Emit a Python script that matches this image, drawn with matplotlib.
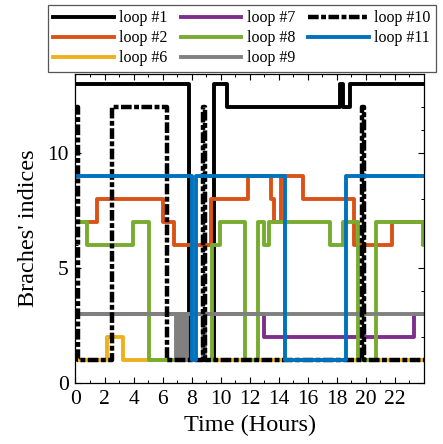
import matplotlib
matplotlib.use('Agg')
import matplotlib.pyplot as plt
from matplotlib.ticker import MultipleLocator

plt.rcParams['font.family'] = ['Liberation Serif', 'DejaVu Serif']

# switching times (hours) and branch index for each loop
t1 = [0, 7.85, 9.55, 10.4, 18.2, 18.45, 18.9, 24]
v1 = [13, 1, 13, 12, 13, 12, 13, 13]

t2 = [0, 1.5, 6.0, 6.8, 9.35, 11.85, 13.45, 13.65, 14.15, 15.65, 19.2, 21.8, 24]
v2 = [7, 8, 7, 6, 8, 9, 8, 7, 9, 8, 6, 7, 7]

t6 = [0, 2.15, 3.3, 24]
v6 = [1, 2, 1, 1]

t7 = [0, 13.0, 23.3, 24]
v7 = [3, 2, 3, 3]

t8 = [0, 0.8, 3.95, 5.05, 9.4, 9.95, 11.65, 12.6, 13.0, 13.3, 17.5, 18.4, 19.45, 20.7, 23.9, 24]
v8 = [7, 6, 7, 1, 6, 7, 1, 7, 6, 7, 6, 7, 1, 7, 6, 6]

t9 = [0, 6.95, 7.05, 7.15, 7.25, 7.35, 7.45, 7.55, 7.65, 8.8, 8.95, 24]
v9 = [3, 1, 3, 1, 3, 1, 3, 1, 3, 1, 3, 3]

t10 = [0, 0.15, 2.5, 6.3, 8.8, 8.95, 19.7, 19.85, 24]
v10 = [12, 1, 12, 1, 12, 1, 12, 1, 1]

t11 = [0, 8.05, 8.3, 14.4, 18.65, 24]
v11 = [9, 1, 9, 1, 9, 9]

labels = ['loop #1', 'loop #2', 'loop #6', 'loop #7', 'loop #8', 'loop #9', 'loop #10', 'loop #11']

fig = plt.figure(figsize=(4.43, 4.44), dpi=100)
ax = fig.add_axes([0.1704, 0.1374, 0.7867, 0.6959])

lw = 2.8
series = [
	(t1, v1, 'black', '-'),
	(t2, v2, '#D95319', '-'),
	(t6, v6, '#EDB120', '-'),
	(t7, v7, '#7E2F8E', '-'),
	(t8, v8, '#77AC30', '-'),
	(t9, v9, '#808080', '-'),
	(t10, v10, 'black', 'dashdot'),
	(t11, v11, '#0072BD', '-'),
]

handles = []
for (t, v, c, ls), lab in zip(series, labels):
	if ls == 'dashdot':
		h, = ax.step(t, v, where='post', color=c, lw=3.2, label=lab)
		h.set_dashes([2.4, 0.55, 1.1, 0.55])
	else:
		h, = ax.step(t, v, where='post', color=c, lw=lw, label=lab)
	handles.append(h)

ax.set_xlim(0, 24)
ax.set_ylim(0, 13.45)
ax.xaxis.set_major_locator(MultipleLocator(2))
ax.xaxis.set_minor_locator(MultipleLocator(1))
ax.yaxis.set_major_locator(MultipleLocator(5))
ax.yaxis.set_minor_locator(MultipleLocator(1))
ax.set_xticks(range(0, 23, 2))
ax.tick_params(which='both', direction='in', top=True, right=True, labelsize=15.5)
ax.tick_params(axis='x', pad=5)
ax.tick_params(axis='y', pad=5)
ax.tick_params(which='major', length=4, width=0.8)
ax.tick_params(which='minor', length=2.5, width=0.7)
for s in ax.spines.values():
	s.set_linewidth(0.9)

ax.set_xlabel('Time (Hours)', fontsize=17.5, labelpad=4)
ax.set_ylabel("Braches' indices", fontsize=17.5, labelpad=6)

leg = fig.legend(handles=handles, loc='upper center', bbox_to_anchor=(0.546, 0.989), ncol=3,
	fontsize=11.5, handlelength=3.8, handletextpad=0.35, columnspacing=0.8,
	labelspacing=0.25, borderpad=0.35, borderaxespad=0, fancybox=False, framealpha=1)
leg.get_frame().set_edgecolor('#555555')
leg.get_frame().set_linewidth(0.9)

fig.savefig('out.png', dpi=100)
